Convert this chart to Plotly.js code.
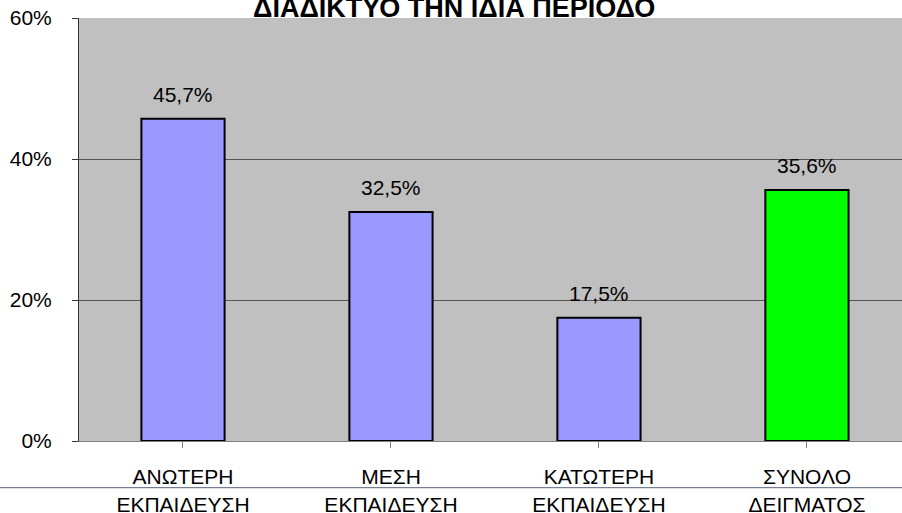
<!DOCTYPE html>
<html><head><meta charset="utf-8">
<script src="https://cdn.plot.ly/plotly-3.0.1.min.js"></script>
<style>html,body{margin:0;padding:0;overflow:hidden;background:#fff}#c{width:902px;height:513px}</style>
</head><body><div id="c"></div>
<script>
const categories = ["ΑΝΩΤΕΡΗ<br>ΕΚΠΑΙΔΕΥΣΗ","ΜΕΣΗ<br>ΕΚΠΑΙΔΕΥΣΗ","ΚΑΤΩΤΕΡΗ<br>ΕΚΠΑΙΔΕΥΣΗ","ΣΥΝΟΛΟ<br>ΔΕΙΓΜΑΤΟΣ"];
const values = [45.7, 32.5, 17.5, 35.6];
const barColors = ["#9999FF","#9999FF","#9999FF","#00FF00"];
const yTickVals = [0, 20, 40, 60];
const yTickText = ["0%","20%","40%","60%"];
const titleText = "ΔΙΑΔΙΚΤΥΟ ΤΗΝ ΙΔΙΑ ΠΕΡΙΟΔΟ";

const F = "Liberation Sans, Arial, sans-serif";
const idx = categories.map((c,i)=>i);
const labels = values.map(v => v.toFixed(1).replace('.', ',') + '%');

const trace = {
  type: 'bar', x: idx, y: values, width: 0.4,
  marker: {color: barColors, line: {color: '#000', width: 2}},
  hoverinfo: 'none'
};
const anns = values.map((v,i)=>({
  x: i, y: v, xref: 'x', yref: 'y', text: labels[i], showarrow: false,
  yanchor: 'bottom', yshift: 11, font: {family: F, size: 21, color: '#000'}
}));
anns.push({
  x: 0.4557, y: 1, xref: 'paper', yref: 'paper', text: '<b>' + titleText + '</b>',
  showarrow: false, yanchor: 'bottom', yshift: -7, font: {family: F, size: 27, color: '#000'}
});

const layout = {
  width: 902, height: 513,
  margin: {l: 79, r: 0, t: 18, b: 72},
  paper_bgcolor: '#fff', plot_bgcolor: '#C0C0C0',
  showlegend: false,
  xaxis: {
    range: [-0.5, 3.457], tickvals: idx, ticktext: categories, tickson: 'boundaries',
    ticks: 'outside', ticklen: 6, tickcolor: '#808080', showgrid: false, zeroline: false,
    showline: true, linecolor: '#808080', linewidth: 1,
    tickfont: {family: F, size: 21, color: '#000'}, ticklabelstandoff: 11,
    fixedrange: true
  },
  yaxis: {
    range: [0, 60], tickvals: yTickVals, ticktext: yTickText, ticks: 'outside', ticklen: 6,
    tickcolor: '#333', showline: true, linecolor: '#333', linewidth: 1,
    showgrid: true, gridcolor: '#555', gridwidth: 1, zeroline: false,
    tickfont: {family: F, size: 21, color: '#000'}, ticklabelstandoff: 16, fixedrange: true
  },
  annotations: anns,
  shapes: [{type: 'line', xref: 'paper', yref: 'paper', x0: -0.2, x1: 1.2, y0: -0.1104, y1: -0.1104,
            line: {color: '#56607a', width: 1}}]
};
Plotly.newPlot('c', [trace], layout, {staticPlot: true, displayModeBar: false});
</script></body></html>
